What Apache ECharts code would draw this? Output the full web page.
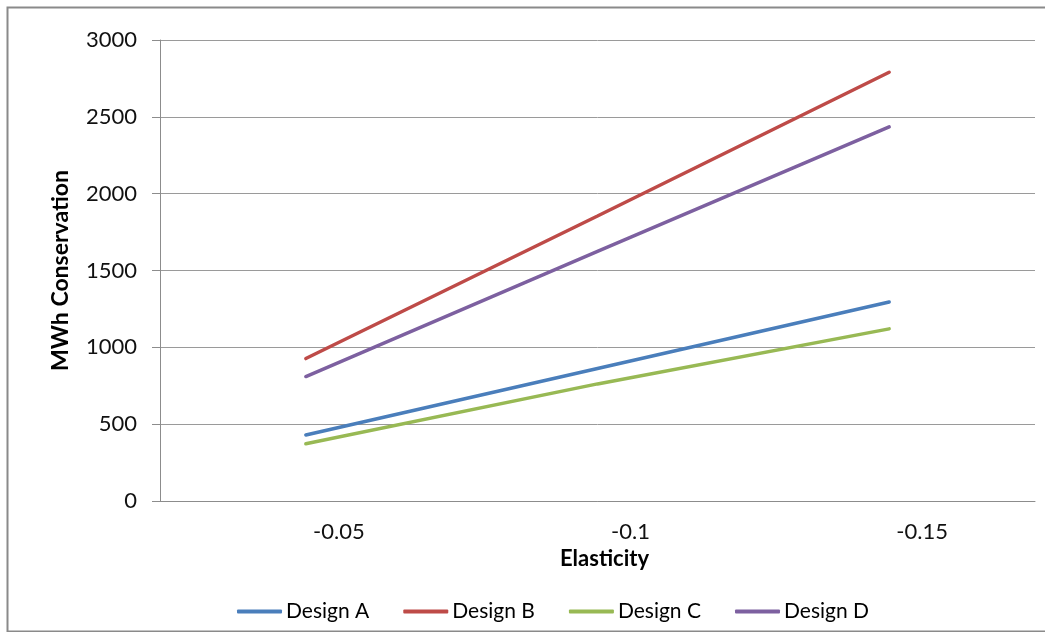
<!DOCTYPE html>
<html>
<head>
<meta charset="utf-8">
<script src="https://cdn.jsdelivr.net/npm/echarts@6/dist/echarts.min.js"></script>
<style>
html,body{margin:0;padding:0;background:#fff;}
#chart{width:1045px;height:632px;}
</style>
</head>
<body>
<div id="chart"></div>
<script>
var categories = ['-0.05', '-0.1', '-0.15'];
var designA = [430, 862, 1295];
var designB = [927, 1855, 2790];
var designC = [372, 762, 1120];
var designD = [810, 1624, 2435];
var yTicks = { min: 0, max: 3000, interval: 500 };

var FONT = 'Lato';
var chart = echarts.init(document.getElementById('chart'));
function line(name, data, color) {
  return {
    name: name, type: 'line', data: data, symbol: 'none',
    lineStyle: { width: 3.5, color: color, cap: 'round' },
    itemStyle: { color: color }
  };
}
chart.setOption({
  animation: false,
  backgroundColor: '#fff',
  textStyle: { fontFamily: FONT },
  graphic: [{
    type: 'rect', left: 5, top: 5, shape: { width: 1060, height: 624 },
    style: { fill: 'none', stroke: '#8a8a8a', lineWidth: 2 }, silent: true, z: -1
  }],
  grid: { left: 160, right: 10, top: 40, bottom: 131 },
  xAxis: {
    type: 'category', data: categories, boundaryGap: true,
    name: 'Elasticity', nameLocation: 'middle', nameGap: 47,
    nameTextStyle: { fontFamily: FONT, fontSize: 22, fontWeight: 'bold', color: '#000', padding: [0, 0, 0, 14] },
    axisLine: { lineStyle: { color: '#8c8c8c', width: 1 } },
    axisTick: { show: false },
    axisLabel: { fontFamily: FONT, fontSize: 22, color: '#111', margin: 20, padding: [0, 0, 0, 66] },
    splitLine: { show: false }
  },
  yAxis: {
    type: 'value', min: yTicks.min, max: yTicks.max, interval: yTicks.interval,
    name: 'MWh Conservation', nameLocation: 'middle', nameRotate: 90, nameGap: 88,
    nameTextStyle: { fontFamily: FONT, fontSize: 23, fontWeight: 'bold', color: '#000' },
    axisLine: { show: true, lineStyle: { color: '#8c8c8c', width: 1 } },
    axisTick: { show: true, length: 8, lineStyle: { color: '#8c8c8c' } },
    axisLabel: { fontFamily: FONT, fontSize: 22, color: '#111', margin: 23,
      formatter: function (v) { return String(v); } },
    splitLine: { lineStyle: { color: '#9a9a9a', width: 1 } }
  },
  legend: {
    left: 232, top: 596, itemWidth: 45, itemHeight: 4, itemGap: 34,
    icon: 'roundRect',
    textStyle: { fontFamily: FONT, fontSize: 21, color: '#000', padding: [0, 0, 0, -1] },
    data: ['Design A', 'Design B', 'Design C', 'Design D']
  },
  series: [
    line('Design A', designA, '#4a7ebb'),
    line('Design B', designB, '#be4b48'),
    line('Design C', designC, '#98b954'),
    line('Design D', designD, '#7d60a0')
  ]
});
</script>
</body>
</html>
